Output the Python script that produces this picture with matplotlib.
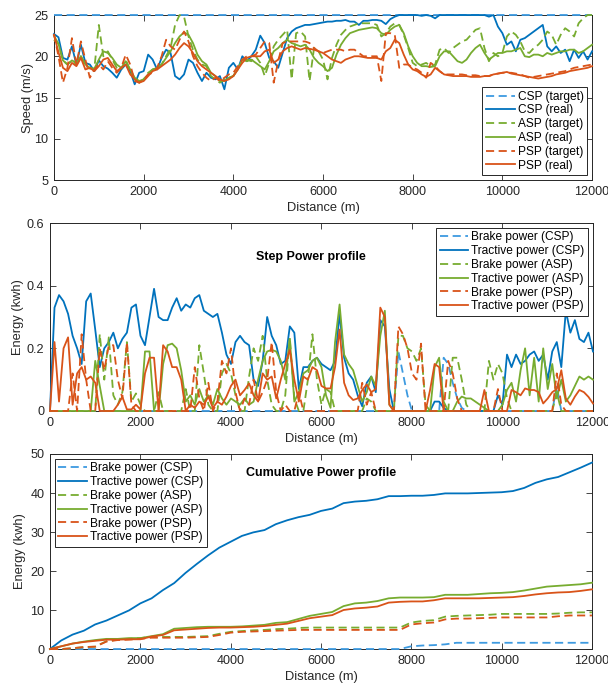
import numpy as np
import matplotlib
matplotlib.use("Agg")
import matplotlib.pyplot as plt

plt.rcParams['font.family'] = ['Liberation Sans', 'DejaVu Sans']

# --------------- DATA ---------------
# distance grids (m)
dist_step = np.arange(0, 12001, 100)
dist_cum = np.arange(0, 12001, 250)

# speed profiles (m/s)
csp_target_dist = [0, 12000]
csp_target = [25.0, 25.0]
csp_real = [22.7, 22.3, 19.8, 19.6, 21.2, 19.0, 21.4, 19.2, 19.0, 18.2,
            19.5, 18.8, 18.5, 18.0, 17.4, 18.4, 19.0, 18.2, 16.6, 18.0,
            18.2, 20.2, 19.6, 18.4, 19.8, 20.8, 20.4, 17.6, 17.2, 17.8,
            19.6, 19.2, 18.0, 17.0, 18.0, 17.4, 17.2, 17.6, 16.0, 18.6,
            19.2, 18.4, 20.0, 19.4, 20.0, 20.8, 22.5, 21.6, 19.8, 19.4,
            18.6, 20.4, 22.2, 23.0, 23.4, 23.6, 23.8, 23.8, 23.9, 24.0,
            24.1, 24.2, 24.2, 24.3, 24.3, 24.4, 24.2, 24.2, 23.8, 24.3,
            24.3, 24.4, 24.4, 24.3, 23.9, 24.5, 24.8, 25.0, 25.0, 25.0,
            25.0, 25.0, 24.9, 25.0, 24.9, 24.6, 25.0, 25.0, 25.0, 25.0,
            25.0, 25.0, 25.0, 25.0, 25.0, 25.0, 25.0, 24.8, 25.0, 23.6,
            22.8, 21.4, 21.8, 20.6, 22.0, 22.2, 22.6, 23.0, 23.4, 23.8,
            21.2, 20.6, 21.2, 20.4, 20.8, 19.4, 20.8, 19.8, 20.6, 19.6,
            20.6]
asp_target = [22.0, 21.5, 19.5, 19.0, 19.5, 19.0, 20.0, 19.0, 18.5, 18.5,
              23.8, 20.0, 20.6, 19.6, 18.6, 18.4, 19.6, 18.2, 17.2, 16.8,
              17.2, 18.0, 18.4, 18.6, 19.0, 20.0, 21.0, 23.8, 25.0, 24.8,
              22.4, 20.8, 19.6, 19.0, 18.8, 17.6, 17.2, 16.8, 17.2, 17.4,
              17.6, 18.6, 19.4, 19.6, 19.4, 20.0, 19.2, 17.6, 19.2, 21.2,
              22.0, 22.6, 23.2, 17.2, 22.8, 23.0, 22.4, 17.0, 21.0, 20.6,
              19.6, 17.2, 19.8, 21.4, 22.6, 23.2, 23.6, 23.8, 24.0, 24.0,
              24.0, 24.0, 23.8, 22.4, 22.8, 23.6, 24.0, 23.8, 22.6, 21.0,
              19.2, 18.8, 19.0, 19.2, 18.8, 19.0, 20.8, 21.0, 20.4, 21.0,
              21.4, 21.8, 22.0, 22.6, 23.2, 23.4, 21.0, 19.4, 20.4, 20.0,
              20.4, 22.4, 23.0, 22.6, 21.8, 20.6, 20.4, 21.0, 21.4, 22.0,
              23.0, 22.6, 21.4, 22.6, 23.4, 23.0, 22.4, 24.0, 24.6, 25.0,
              25.0]
asp_real = [22.5, 21.5, 19.5, 19.0, 19.5, 19.2, 20.0, 19.0, 18.6, 18.5,
            19.6, 20.6, 20.4, 19.8, 19.0, 18.6, 19.4, 18.4, 17.4, 17.0,
            17.2, 17.8, 18.4, 18.6, 19.0, 19.8, 20.6, 21.6, 22.4, 22.9,
            22.6, 21.6, 20.2, 19.4, 19.0, 18.0, 17.6, 17.0, 17.0, 17.4,
            17.6, 18.4, 19.6, 19.4, 19.6, 19.2, 18.8, 18.4, 19.4, 20.6,
            21.0, 21.6, 22.0, 21.6, 21.4, 21.2, 21.4, 20.8, 19.8, 19.2,
            18.8, 18.2, 18.6, 20.2, 21.4, 22.2, 22.8, 23.0, 23.2, 23.3,
            23.4, 23.5, 23.4, 22.8, 22.6, 23.2, 23.6, 23.8, 22.8, 21.2,
            20.0, 19.2, 18.8, 18.8, 18.7, 18.8, 20.0, 20.6, 20.6, 20.0,
            19.4, 19.2, 19.6, 20.4, 21.0, 21.4, 20.4, 19.6, 20.0, 20.4,
            20.4, 20.6, 20.6, 20.8, 21.0, 20.0, 19.9, 20.2, 20.2, 20.0,
            20.4, 20.2, 20.4, 20.6, 20.6, 20.8, 20.8, 20.4, 20.6, 21.0,
            21.4]
psp_target = [22.7, 20.0, 16.8, 18.6, 22.2, 19.0, 21.8, 19.6, 17.4, 18.4,
              19.0, 18.4, 19.4, 18.6, 18.0, 18.6, 20.2, 19.0, 17.0, 16.8,
              17.2, 17.8, 18.0, 18.6, 20.0, 22.0, 21.2, 20.8, 22.0, 23.0,
              21.8, 20.0, 18.8, 18.0, 17.4, 17.0, 17.4, 17.0, 17.4, 17.8,
              18.0, 18.8, 19.6, 20.0, 20.0, 20.2, 21.0, 21.8, 21.6, 16.8,
              19.4, 21.6, 21.8, 21.8, 21.8, 21.8, 21.8, 21.6, 21.0, 20.6,
              20.4, 20.6, 20.8, 20.8, 20.8, 20.6, 20.8, 20.8, 20.4, 20.0,
              20.0, 20.0, 20.0, 17.0, 22.8, 22.8, 22.6, 18.6, 19.0, 19.0,
              18.6, 18.4, 18.0, 17.4, 19.2, 18.8, 18.2, 17.8, 17.8, 17.8,
              17.8, 17.8, 17.7, 17.7, 17.7, 17.6, 17.6, 17.6, 17.8, 17.9,
              18.0, 18.0, 18.0, 17.9, 17.8, 17.6, 17.4, 17.5, 17.6, 17.7,
              17.8, 17.9, 18.0, 18.1, 18.2, 18.4, 18.6, 18.7, 18.8, 18.9,
              19.0]
psp_real = [22.6, 20.5, 18.6, 18.2, 19.2, 18.8, 19.8, 18.4, 18.6, 18.2,
            18.8, 19.6, 19.8, 19.0, 18.2, 18.6, 19.0, 17.8, 17.2, 16.8,
            17.0, 17.6, 18.2, 18.4, 18.8, 19.2, 19.6, 20.2, 21.0, 21.6,
            21.2, 20.4, 19.4, 18.8, 18.4, 18.0, 17.6, 17.2, 17.0, 17.2,
            17.6, 18.4, 19.2, 19.8, 20.0, 20.0, 20.0, 20.6, 20.8, 19.2,
            19.6, 20.6, 21.0, 21.2, 21.0, 20.8, 21.0, 20.9, 20.8, 20.6,
            20.4, 20.0, 19.6, 19.4, 19.2, 19.6, 19.8, 20.0, 20.0, 19.9,
            19.8, 19.8, 19.8, 19.6, 20.6, 21.0, 22.0, 21.6, 20.2, 19.0,
            18.4, 18.2, 17.8, 17.5, 17.8, 18.6, 18.2, 17.8, 17.7, 17.6,
            17.6, 17.6, 17.6, 17.5, 17.5, 17.5, 17.6, 17.6, 17.8, 17.9,
            18.0, 18.1, 17.9, 17.8, 17.7, 17.6, 17.5, 17.4, 17.3, 17.4,
            17.5, 17.6, 17.8, 17.9, 18.0, 18.2, 18.3, 18.4, 18.5, 18.6,
            18.8]

# step energy (kwh)
brake_csp = [0, 0, 0, 0, 0, 0, 0, 0, 0, 0,
             0, 0, 0, 0, 0, 0, 0, 0, 0, 0,
             0, 0, 0, 0, 0, 0, 0, 0, 0, 0,
             0, 0, 0, 0, 0, 0, 0, 0, 0, 0,
             0, 0, 0, 0, 0, 0, 0, 0, 0, 0,
             0, 0, 0, 0, 0, 0, 0, 0, 0, 0,
             0, 0, 0, 0, 0, 0, 0, 0, 0, 0,
             0, 0, 0, 0, 0, 0, 0, 0.19, 0.12, 0.05,
             0, 0, 0, 0, 0, 0, 0, 0.17, 0.15, 0.09,
             0.04, 0.01, 0, 0, 0, 0, 0, 0, 0, 0,
             0, 0, 0, 0, 0, 0, 0, 0, 0, 0,
             0, 0, 0.08, 0, 0, 0, 0, 0, 0, 0,
             0]
tract_csp = [0.0, 0.33, 0.37, 0.35, 0.31, 0.24, 0.20, 0.15, 0.35, 0.375,
             0.26, 0.14, 0.20, 0.22, 0.25, 0.20, 0.23, 0.25, 0.33, 0.34,
             0.24, 0.21, 0.30, 0.39, 0.30, 0.29, 0.29, 0.33, 0.36, 0.32,
             0.34, 0.33, 0.36, 0.37, 0.32, 0.31, 0.30, 0.31, 0.25, 0.18,
             0.15, 0.22, 0.24, 0.22, 0.21, 0.10, 0.08, 0.16, 0.30, 0.24,
             0.21, 0.15, 0.16, 0.27, 0.25, 0.07, 0.14, 0.14, 0.16, 0.17,
             0.15, 0.14, 0.13, 0.16, 0.31, 0.17, 0.12, 0.10, 0.05, 0.015,
             0.09, 0.11, 0.06, 0.29, 0.27, 0.07, 0.0, 0.0, 0.0, 0.0,
             0.0, 0.0, 0.0, 0.0, 0.0, 0.03, 0.03, 0.01, 0.0, 0.0,
             0.0, 0.0, 0.0, 0.0, 0.0, 0.0, 0.0, 0.0, 0.0, 0.05,
             0.02, 0.18, 0.14, 0.18, 0.15, 0.16, 0.18, 0.19, 0.16, 0.18,
             0.10, 0.19, 0.22, 0.14, 0.32, 0.25, 0.29, 0.23, 0.22, 0.25,
             0.19]
brake_asp = [0, 0, 0, 0, 0, 0, 0, 0, 0, 0,
             0, 0.245, 0.10, 0.235, 0.05, 0.02, 0.06, 0.22, 0.03, 0.056,
             0.02, 0, 0, 0, 0.06, 0, 0, 0, 0, 0,
             0.07, 0, 0, 0.21, 0.12, 0.02, 0, 0, 0.12, 0.15,
             0.12, 0.05, 0, 0, 0.11, 0.20, 0.16, 0.24, 0.10, 0.02,
             0, 0, 0.05, 0.235, 0.04, 0, 0, 0.10, 0.245, 0.10,
             0.02, 0.07, 0.06, 0, 0, 0, 0, 0, 0, 0,
             0.04, 0.03, 0, 0, 0, 0, 0, 0.24, 0.24, 0.20,
             0.19, 0.16, 0.20, 0.02, 0, 0, 0, 0, 0, 0.17,
             0.17, 0.10, 0.02, 0, 0, 0, 0, 0.16, 0.10, 0.15,
             0.12, 0.04, 0, 0, 0, 0, 0, 0, 0, 0,
             0, 0, 0.06, 0, 0, 0, 0, 0, 0, 0,
             0]
tract_asp = [0, 0, 0, 0, 0, 0, 0, 0, 0, 0,
             0.16, 0.08, 0, 0, 0, 0, 0, 0, 0, 0,
             0, 0.19, 0.19, 0.0, 0, 0.15, 0.21, 0.215, 0.20, 0.13,
             0.03, 0.05, 0.02, 0.07, 0.03, 0.05, 0.02, 0.07, 0.04, 0.02,
             0.04, 0.03, 0.02, 0.04, 0.02, 0.03, 0.10, 0.16, 0.19, 0.195,
             0.19, 0.16, 0.10, 0.23, 0.03, 0.06, 0.12, 0.13, 0.16, 0.17,
             0.14, 0.05, 0.01, 0.22, 0.34, 0.18, 0.15, 0.13, 0.08, 0.03,
             0.06, 0.11, 0.08, 0.24, 0.32, 0.02, 0, 0, 0, 0,
             0, 0, 0, 0, 0, 0.14, 0.17, 0.03, 0, 0,
             0.03, 0.046, 0.04, 0.04, 0.03, 0.02, 0.01, 0, 0, 0,
             0.02, 0.067, 0.09, 0.03, 0.13, 0.20, 0.05, 0.17, 0.03, 0.20,
             0.07, 0.15, 0.04, 0.10, 0.03, 0.05, 0.08, 0.11, 0.10, 0.11,
             0.10]
brake_psp = [0, 0, 0, 0, 0, 0.12, 0, 0.245, 0.10, 0,
             0, 0.20, 0.13, 0.21, 0.21, 0.10, 0.04, 0.22, 0.02, 0,
             0, 0, 0, 0, 0, 0, 0, 0, 0, 0,
             0, 0, 0.14, 0.04, 0, 0.09, 0, 0.03, 0.16, 0.12,
             0.20, 0.06, 0, 0.04, 0.02, 0.10, 0.03, 0.06, 0.10, 0.22,
             0.06, 0, 0.02, 0, 0, 0.06, 0, 0, 0, 0,
             0, 0, 0, 0, 0, 0, 0, 0, 0, 0.09,
             0.02, 0.06, 0, 0, 0, 0, 0, 0.27, 0.245, 0.20,
             0.12, 0.10, 0.215, 0, 0, 0, 0, 0, 0.16, 0.12,
             0.04, 0, 0, 0, 0, 0, 0, 0, 0, 0.07,
             0, 0, 0, 0, 0, 0, 0, 0, 0, 0,
             0, 0, 0.12, 0.02, 0, 0, 0, 0, 0, 0,
             0]
tract_psp = [0.0, 0.22, 0.03, 0.20, 0.235, 0.02, 0.12, 0.14, 0.10, 0.11,
             0.09, 0.0, 0, 0, 0, 0.02, 0.045, 0.005, 0.005, 0.02,
             0.005, 0.12, 0.17, 0.17, 0.0, 0.21, 0.19, 0.14, 0.14, 0.10,
             0.0, 0.02, 0.01, 0.03, 0.02, 0.046, 0.01, 0.03, 0.02, 0.046,
             0.08, 0.10, 0.05, 0.067, 0.088, 0.05, 0.03, 0.12, 0.10, 0.11,
             0.04, 0.10, 0.15, 0.195, 0.10, 0.03, 0.11, 0.10, 0.14, 0.13,
             0.08, 0.072, 0.072, 0.14, 0.26, 0.09, 0.05, 0.035, 0.04, 0.067,
             0.085, 0.06, 0.07, 0.33, 0.30, 0.02, 0, 0, 0, 0,
             0, 0, 0, 0, 0.067, 0.15, 0.14, 0, 0, 0,
             0, 0, 0, 0, 0, 0, 0.067, 0, 0, 0,
             0, 0, 0.067, 0.06, 0.05, 0.072, 0.067, 0.067, 0.06, 0.024,
             0.04, 0.06, 0.07, 0.13, 0.04, 0.02, 0.046, 0.067, 0.06, 0.045,
             0.024]

# cumulative energy (kwh)
cum_brake_csp = [0, 0, 0, 0, 0, 0, 0, 0, 0, 0, 0, 0, 0, 0, 0, 0,
                 0, 0, 0, 0, 0, 0, 0, 0, 0, 0, 0, 0, 0, 0, 0, 0,
                 0.7, 0.9, 1.0, 1.2, 1.6, 1.6, 1.6, 1.6, 1.6, 1.6,
                 1.6, 1.6, 1.6, 1.6, 1.6, 1.6, 1.6]
cum_tract_csp = [0, 2.2, 3.7, 4.7, 6.3, 7.3, 8.6, 9.9, 11.7, 13.0,
                 15.1, 16.9, 19.5, 21.8, 24.0, 26.0, 27.5, 29.0, 29.9, 30.5,
                 32.0, 33.0, 33.8, 34.4, 35.4, 36.0, 37.4, 37.8, 38.0, 38.4,
                 39.2, 39.2, 39.3, 39.3, 39.5, 39.9, 39.9, 39.9, 40.0, 40.1,
                 40.2, 40.5, 41.3, 42.6, 43.5, 44.1, 45.3, 46.5, 47.8]
cum_brake_asp = [0, 0, 0.2, 0.5, 0.6, 2.0, 2.4, 2.6, 2.8, 3.1,
                 3.1, 3.1, 3.1, 3.2, 3.3, 3.9, 4.4, 4.6, 4.8, 4.9,
                 5.1, 5.2, 5.4, 5.5, 5.5, 5.5, 5.5, 5.5, 5.5, 5.5,
                 5.5, 5.5, 6.8, 7.2, 7.4, 8.3, 8.5, 8.6, 8.7, 8.8,
                 9.0, 9.0, 9.0, 9.0, 9.0, 9.1, 9.3, 9.4, 9.4]
cum_tract_asp = [0, 0.7, 1.4, 1.9, 2.3, 2.6, 2.6, 2.8, 2.8, 3.3,
                 3.8, 5.2, 5.4, 5.6, 5.7, 5.7, 5.7, 5.8, 6.0, 6.2,
                 6.7, 6.9, 7.7, 8.5, 9.0, 9.5, 11.0, 11.7, 11.9, 12.3,
                 13.0, 13.2, 13.2, 13.2, 13.3, 13.9, 13.9, 13.9, 14.1, 14.3,
                 14.4, 14.6, 15.0, 15.5, 16.0, 16.2, 16.4, 16.6, 17.0]
cum_brake_psp = [0, 0, 0.2, 0.5, 0.6, 1.9, 2.3, 2.4, 2.6, 2.9,
                 2.9, 2.9, 2.9, 3.0, 3.1, 3.6, 4.2, 4.4, 4.5, 4.6,
                 4.7, 4.8, 4.9, 4.9, 4.9, 4.9, 4.9, 4.9, 4.9, 4.9,
                 4.9, 4.9, 6.3, 6.6, 6.8, 7.6, 7.8, 7.8, 7.9, 8.0,
                 8.1, 8.1, 8.1, 8.1, 8.1, 8.4, 8.6, 8.6, 8.6]
cum_tract_psp = [0, 0.7, 1.4, 1.8, 2.1, 2.4, 2.4, 2.5, 2.5, 3.2,
                 3.6, 4.8, 5.0, 5.2, 5.4, 5.5, 5.5, 5.6, 5.7, 5.9,
                 6.2, 6.5, 7.2, 7.9, 8.3, 8.7, 10.0, 10.4, 10.6, 10.9,
                 11.9, 12.1, 12.2, 12.2, 12.5, 13.0, 13.0, 13.0, 13.0, 13.1,
                 13.2, 13.3, 13.6, 14.0, 14.3, 14.5, 14.6, 14.9, 15.3]

# --------------- STYLE ---------------
blue = '#0072BD'
blue_light = '#3D9AE0'
green = '#77AC30'
orange = '#D95319'
ink = '#262626'
dash = (0, (4.5, 2.5))


def draw(ax, x, y, color, dashed, label):
    ax.plot(x, y, color=color, lw=1.3, ls=dash if dashed else '-',
            label=label, clip_on=False, zorder=3)


def style_axes(ax, ylim, yticks, yticklabels, ylabel, ylabelpad):
    ax.set_xlim(0, 12000)
    ax.set_ylim(*ylim)
    ax.set_xticks(range(0, 12001, 2000))
    ax.set_yticks(yticks)
    ax.set_yticklabels(yticklabels)
    ax.tick_params(direction='in', top=True, right=True, length=4,
                   width=0.6, labelsize=9.1, colors=ink, pad=4)
    for s in ax.spines.values():
        s.set_linewidth(0.7)
        s.set_color(ink)
    ax.set_xlabel('Distance (m)', fontsize=9.3, color=ink, labelpad=3)
    ax.set_ylabel(ylabel, fontsize=9.3, color=ink, labelpad=ylabelpad)


def add_legend(ax, loc):
    leg = ax.legend(loc=loc, fontsize=8.6, handlelength=2.4, handletextpad=0.25,
                    labelspacing=0.15, borderpad=0.3, borderaxespad=0.4,
                    fancybox=False, framealpha=1, edgecolor=ink)
    leg.get_frame().set_linewidth(0.7)
    leg.set_zorder(10)


# --------------- PLOT ---------------
fig = plt.figure(figsize=(6.08, 6.86), dpi=100)
ax1 = fig.add_axes([0.0888, 0.7376, 0.885, 0.2405])
ax2 = fig.add_axes([0.0822, 0.4009, 0.8931, 0.274])
ax3 = fig.add_axes([0.0822, 0.0539, 0.8914, 0.2843])

# speed
draw(ax1, csp_target_dist, csp_target, blue_light, True, 'CSP (target)')
draw(ax1, dist_step, csp_real, blue, False, 'CSP (real)')
draw(ax1, dist_step, asp_target, green, True, 'ASP (target)')
draw(ax1, dist_step, asp_real, green, False, 'ASP (real)')
draw(ax1, dist_step, psp_target, orange, True, 'PSP (target)')
draw(ax1, dist_step, psp_real, orange, False, 'PSP (real)')
style_axes(ax1, (5, 25), [5, 10, 15, 20, 25], ['5', '10', '15', '20', '25'],
           'Speed (m/s)', 0.5)
add_legend(ax1, 'lower right')

# step power
draw(ax2, dist_step, brake_csp, blue_light, True, 'Brake power (CSP)')
draw(ax2, dist_step, tract_csp, blue, False, 'Tractive power (CSP)')
draw(ax2, dist_step, brake_asp, green, True, 'Brake power (ASP)')
draw(ax2, dist_step, tract_asp, green, False, 'Tractive power (ASP)')
draw(ax2, dist_step, brake_psp, orange, True, 'Brake power (PSP)')
draw(ax2, dist_step, tract_psp, orange, False, 'Tractive power (PSP)')
style_axes(ax2, (0, 0.6), [0, 0.2, 0.4, 0.6], ['0', '0.2', '0.4', '0.6'],
           'Energy (kwh)', 2)
add_legend(ax2, 'upper right')
ax2.text(0.48, 0.82, 'Step Power profile', transform=ax2.transAxes,
         ha='center', va='center', fontsize=9, fontweight='bold')

# cumulative power
draw(ax3, dist_cum, cum_brake_csp, blue_light, True, 'Brake power (CSP)')
draw(ax3, dist_cum, cum_tract_csp, blue, False, 'Tractive power (CSP)')
draw(ax3, dist_cum, cum_brake_asp, green, True, 'Brake power (ASP)')
draw(ax3, dist_cum, cum_tract_asp, green, False, 'Tractive power (ASP)')
draw(ax3, dist_cum, cum_brake_psp, orange, True, 'Brake power (PSP)')
draw(ax3, dist_cum, cum_tract_psp, orange, False, 'Tractive power (PSP)')
style_axes(ax3, (0, 50), [0, 10, 20, 30, 40, 50], ['0', '10', '20', '30', '40', '50'],
           'Energy (kwh)', 3)
add_legend(ax3, 'upper left')
ax3.text(0.5, 0.90, 'Cumulative Power profile', transform=ax3.transAxes,
         ha='center', va='center', fontsize=9, fontweight='bold')

fig.savefig('out.png', dpi=100)
